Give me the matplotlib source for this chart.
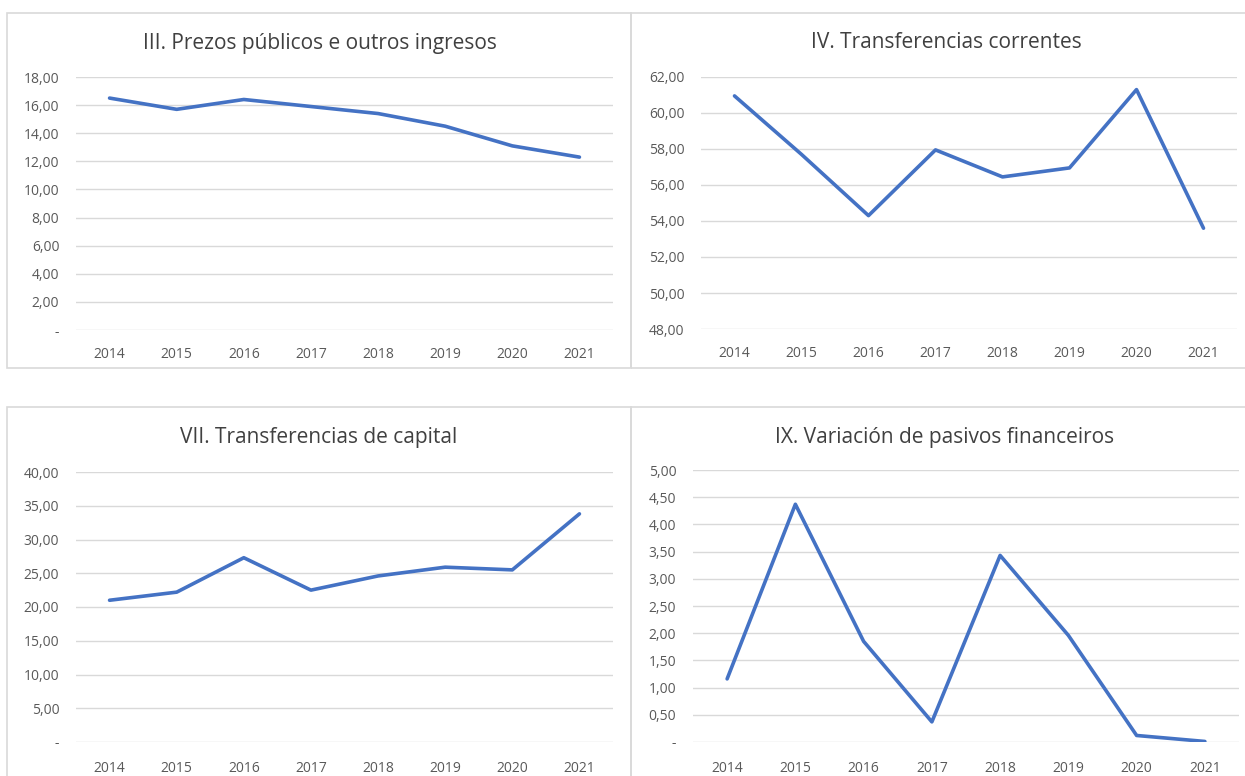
import matplotlib.pyplot as plt
from matplotlib.patches import Rectangle
from matplotlib.ticker import FuncFormatter

plt.rcParams['font.family'] = ['Open Sans', 'DejaVu Sans']

years = ['2014', '2015', '2016', '2017', '2018', '2019', '2020', '2021']

prezos = [16.5, 15.7, 16.4, 15.9, 15.4, 14.5, 13.1, 12.3]
transf_correntes = [60.95, 57.7, 54.3, 57.95, 56.45, 56.95, 61.3, 53.6]
transf_capital = [21.0, 22.2, 27.3, 22.5, 24.6, 25.9, 25.5, 33.8]
pasivos = [1.16, 4.37, 1.85, 0.37, 3.43, 1.96, 0.12, 0.01]

W, H = 1245, 776
fig = plt.figure(figsize=(W / 100, H / 100), dpi=100)

def px_axes(x0, y0, x1, y1):
    return fig.add_axes([x0 / W, 1 - y1 / H, (x1 - x0) / W, (y1 - y0) / H])

def fmt(v, pos):
    if abs(v) < 1e-9:
        return '-'
    return f'{v:.2f}'.replace('.', ',')

border = '#d9d9d9'
# panel frames
fig.patches.append(Rectangle((7 / W, 1 - 368 / H), (631 - 7) / W, (368 - 13) / H,
                             transform=fig.transFigure, fill=False, ec=border, lw=1.2))
fig.patches.append(Rectangle((631 / W, 1 - 368 / H), (1250 - 631) / W, (368 - 13) / H,
                             transform=fig.transFigure, fill=False, ec=border, lw=1.2))
fig.patches.append(Rectangle((7 / W, -0.05), (631 - 7) / W, 0.05 + (776 - 407) / H,
                             transform=fig.transFigure, fill=False, ec=border, lw=1.2))
fig.patches.append(Rectangle((631 / W, -0.05), (1250 - 631) / W, 0.05 + (776 - 407) / H,
                             transform=fig.transFigure, fill=False, ec=border, lw=1.2))

panels = [
    (prezos, 'III. Prezos públicos e outros ingresos', (76, 77, 613, 330), 0, 18, 2, (320, 43), 12),
    (transf_correntes, 'IV. Transferencias correntes', (701, 77, 1237, 329), 48, 62, 2, (946, 43), 12),
    (transf_capital, 'VII. Transferencias de capital', (76, 472, 613, 742), 0, 40, 5, (319, 437), 14),
    (pasivos, 'IX. Variación de pasivos financeiros', (693, 470, 1239, 742), 0, 5, 0.5, (945, 437), 14),
]

for values, title, box, lo, hi, step, tpos, xpad in panels:
    ax = px_axes(*box)
    x = range(len(years))
    ax.plot(x, values, color='#4472C4', lw=2.6, solid_capstyle='round', solid_joinstyle='round')
    ax.set_xlim(-0.5, len(years) - 0.5)
    ax.set_ylim(lo, hi)
    ticks = []
    t = lo
    while t <= hi + 1e-9:
        ticks.append(t)
        t += step
    ax.set_yticks(ticks)
    ax.yaxis.set_major_formatter(FuncFormatter(fmt))
    ax.set_xticks(list(x))
    ax.set_xticklabels(years)
    ax.grid(axis='y', color='#d9d9d9', lw=1)
    ax.set_axisbelow(True)
    for s in ax.spines.values():
        s.set_visible(False)
    ax.tick_params(length=0, labelsize=10, colors='#595959')
    ax.tick_params(axis='x', pad=xpad)
    ax.tick_params(axis='y', pad=12)
    ax.patch.set_alpha(0)
    fig.text(tpos[0] / W, 1 - tpos[1] / H, title, ha='center', va='center',
             fontsize=15, color='#404040')

fig.savefig('out.png', dpi=100)
